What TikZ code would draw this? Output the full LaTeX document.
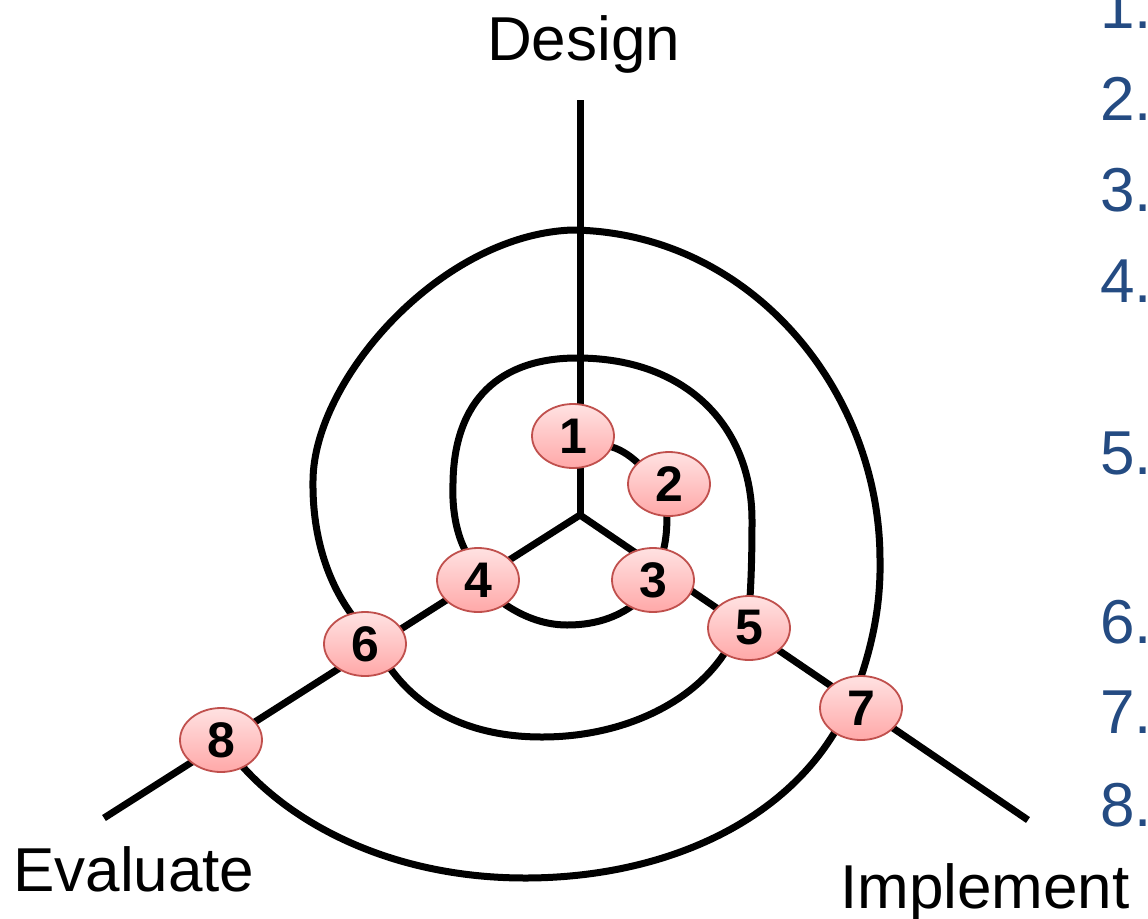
\documentclass[tikz,border=0pt]{standalone}
\usepackage{fontspec}
\setmainfont{Liberation Sans}
\usetikzlibrary{shapes.geometric}
\definecolor{numblue}{RGB}{36,75,130}
\definecolor{pinktop}{RGB}{255,226,226}
\definecolor{pinkbot}{RGB}{255,168,168}
\definecolor{pinkedge}{RGB}{192,80,77}
\pgfdeclarelayer{bg}
\pgfsetlayers{bg,main}
\tikzset{
  stage/.style={ellipse, draw=pinkedge, line width=1.8pt, top color=pinktop, bottom color=pinkbot,
    minimum width=82pt, minimum height=64pt, inner sep=0pt,
    font=\fontsize{50}{50}\selectfont\bfseries},
  axisline/.style={line width=7pt},
  spiral/.style={line width=7pt, line join=round},
  lbl/.style={anchor=base west, inner sep=0pt, font=\fontsize{62}{62}\selectfont},
  num/.style={lbl, text=numblue}
}
\begin{document}
\begin{tikzpicture}[x=1pt,y=-1pt]
\useasboundingbox (0,0) rectangle (1148,918);
% axes end points
\coordinate (O) at (580,515);
\coordinate (top) at (580,100);
\coordinate (ll) at (104,818);
\coordinate (lr) at (1028,820);
% stages
\node[stage] (n1) at (573,436) {1};
\node[stage] (n2) at (669,484) {2};
\node[stage] (n3) at (653,580) {3};
\node[stage] (n4) at (478,580) {4};
\node[stage] (n5) at (749,628) {5};
\node[stage] (n6) at (365,644) {6};
\node[stage] (n7) at (861,708) {7};
\node[stage] (n8) at (221,740) {8};
% labels
\node[lbl] (design) at (487,60) {Design};
\node[lbl] (evaluate) at (13,891) {Evaluate};
\node[lbl] (implement) at (840,908) {Implement};
% numbered list (cut off at the right edge)
\node[num] (l1) at (1100,28) {1.};
\node[num] (l2) at (1100,120) {2.};
\node[num] (l3) at (1100,211) {3.};
\node[num] (l4) at (1100,302) {4.};
\node[num] (l5) at (1100,474) {5.};
\node[num] (l6) at (1100,643) {6.};
\node[num] (l7) at (1100,733) {7.};
\node[num] (l8) at (1100,826) {8.};
\begin{pgfonlayer}{bg}
\draw[axisline] (O) -- (top);
\draw[axisline] (O) -- (ll);
\draw[axisline] (O) -- (lr);
% spiral, segment by segment
\draw[spiral] (n1.center) -- (612,447) .. controls (622,450) and (632,457) .. (641,466) -- (n2.center);
\draw[spiral] (n2.center) -- (667,514) .. controls (667,530) and (666,540) .. (663,552) -- (n3.center);
\draw[spiral] (n3.center) -- (632,606) .. controls (612,620) and (590,625) .. (567,625)
   .. controls (542,625) and (520,615) .. (503,603) -- (n4.center);
\draw[spiral] (n4.center) -- (465,550) .. controls (455,530) and (452,505) .. (453,483)
   .. controls (454,400) and (500,358) .. (577,358)
   .. controls (690,358) and (752,430) .. (752,520)
   .. controls (752,560) and (751,580) .. (750,598) -- (n5.center);
\draw[spiral] (n5.center) -- (724,654) .. controls (690,705) and (620,737) .. (542,737)
   .. controls (470,737) and (420,710) .. (390,668) -- (n6.center);
\draw[spiral] (n6.center) -- (352,615) .. controls (330,585) and (312,540) .. (313,480)
   .. controls (314,380) and (440,235) .. (572,230)
   .. controls (750,232) and (880,390) .. (880,560)
   .. controls (881,610) and (870,650) .. (860,680) -- (n7.center);
\draw[spiral] (n7.center) -- (836,730) .. controls (780,825) and (660,878) .. (525,878)
   .. controls (400,878) and (300,830) .. (243,767) -- (n8.center);
\end{pgfonlayer}
\end{tikzpicture}
\end{document}
